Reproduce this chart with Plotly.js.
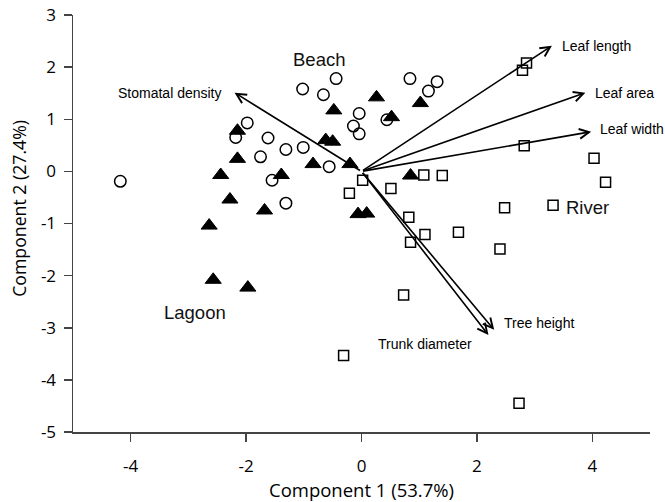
<!DOCTYPE html>
<html>
<head>
<meta charset="utf-8">
<script src="https://cdn.plot.ly/plotly-3.0.1.min.js"></script>
<style>html,body{margin:0;padding:0;background:#fff;}#chart{width:665px;height:502px;}</style>
</head>
<body>
<div id="chart"></div>
<script>
// Beach (open circles)
const beachX = [-4.18, -1.98, -2.18, -1.62, -1.75, -1.31, -1.01, -1.55, -1.31, -0.56, -1.02, -0.66, -0.44, -0.04, -0.14, -0.04, 0.84, 1.16, 1.31, 0.44];
const beachY = [-0.19, 0.93, 0.65, 0.64, 0.28, 0.42, 0.46, -0.17, -0.61, 0.09, 1.58, 1.47, 1.78, 1.11, 0.87, 0.72, 1.78, 1.54, 1.72, 0.99];
// Lagoon (filled triangles)
const lagoonX = [-2.15, -2.15, -2.44, -2.28, -1.68, -1.39, -2.64, -2.57, -1.97, -0.84, -0.62, -0.50, -0.48, -0.20, 0.26, 0.52, 1.02, 0.85, -0.06, 0.09];
const lagoonY = [0.78, 0.24, -0.07, -0.54, -0.75, -0.07, -1.04, -2.08, -2.23, 0.14, 0.60, 0.57, 1.17, 0.14, 1.42, 1.04, 1.31, -0.08, -0.82, -0.81];
// River (open squares)
const riverX = [0.02, -0.21, 0.51, 1.08, 1.40, 0.82, 1.10, 0.85, 1.68, 0.73, 2.86, 2.79, 2.82, 4.03, 4.23, 3.32, 2.48, 2.40, -0.31, 2.73];
const riverY = [-0.17, -0.42, -0.33, -0.07, -0.08, -0.88, -1.21, -1.36, -1.17, -2.37, 2.08, 1.94, 0.49, 0.25, -0.21, -0.65, -0.70, -1.49, -3.53, -4.45];
// Variable loading vectors (from origin)
const vecNames = ['Stomatal density', 'Leaf length', 'Leaf area', 'Leaf width', 'Tree height', 'Trunk diameter'];
const vecX = [-2.20, 3.30, 3.88, 3.98, 2.30, 2.20];
const vecY = [1.51, 2.41, 1.51, 0.76, -3.04, -3.14];
// Group labels
const groupNames = ['Beach', 'River', 'Lagoon'];
const groupX = [-0.74, 3.92, -2.88];
const groupY = [2.15, -0.69, -2.71];
// Axis ticks
const xTicks = [-4, -2, 0, 2, 4];
const xTickText = ['-4', '-2', '0', '2', '4'];
const yTicks = [-5, -4, -3, -2, -1, 0, 1, 2, 3];
const yTickText = ['-5', '-4', '-3', '-2', '-1', '0', '1', '2', '3'];
const xTitle = 'Component 1 (53.7%)';
const yTitle = 'Component 2 (27.4%)';

// label styling (placement relative to vector tips, in px)
const vecLabelStyle = [
  {xanchor: 'right', xshift: -11, yshift: 0},
  {xanchor: 'left', xshift: 8, yshift: 0},
  {xanchor: 'left', xshift: 8, yshift: 0},
  {xanchor: 'left', xshift: 7, yshift: 3},
  {xanchor: 'left', xshift: 8, yshift: 7},
  {xanchor: 'right', xshift: -14, yshift: -9}
];

const traces = [
  {x: riverX, y: riverY, type: 'scatter', mode: 'markers', name: 'River',
   marker: {symbol: 'square-open', size: 10, color: '#000', line: {width: 1.5, color: '#000'}}},
  {x: beachX, y: beachY, type: 'scatter', mode: 'markers', name: 'Beach',
   marker: {symbol: 'circle-open', size: 11.5, color: '#000', line: {width: 1.5, color: '#000'}}},
  {x: lagoonX, y: lagoonY, type: 'scatter', mode: 'markers', name: 'Lagoon',
   marker: {symbol: 'triangle-up', size: 14, color: '#000', line: {width: 1, color: '#000'}}}
];

const annotations = [];
vecNames.forEach((n, i) => {
  annotations.push({x: vecX[i], y: vecY[i], ax: 0, ay: 0, axref: 'x', ayref: 'y', xref: 'x', yref: 'y',
    text: '', showarrow: true, arrowhead: 5, arrowsize: 1.2, arrowwidth: 1.6, arrowcolor: '#000', standoff: 0, startstandoff: 0});
  const s = vecLabelStyle[i];
  annotations.push({x: vecX[i], y: vecY[i], xref: 'x', yref: 'y', text: n, showarrow: false,
    xanchor: s.xanchor, yanchor: 'middle', xshift: s.xshift, yshift: s.yshift,
    font: {family: 'Liberation Sans, Arial, sans-serif', size: 14, color: '#000'}});
});
groupNames.forEach((n, i) => {
  annotations.push({x: groupX[i], y: groupY[i], xref: 'x', yref: 'y', text: n, showarrow: false,
    xanchor: 'center', yanchor: 'middle',
    font: {family: 'Liberation Sans, Arial, sans-serif', size: 18.5, color: '#111'}});
});
// y-axis title placed as rotated text left of the axis
annotations.push({x: -0.094, y: 0.537, xref: 'paper', yref: 'paper', text: yTitle, showarrow: false,
  textangle: -90, xanchor: 'center', yanchor: 'middle',
  font: {family: 'Open Sans, Noto Sans, sans-serif', size: 17.7, color: '#000'}});

const axisFont = {family: 'Open Sans, Noto Sans, sans-serif', size: 17, color: '#000'};
const layout = {
  width: 665, height: 502,
  margin: {l: 73, r: 15, t: 15, b: 70},
  paper_bgcolor: '#fff', plot_bgcolor: '#fff',
  showlegend: false,
  xaxis: {range: [-5, 5], tickvals: xTicks, ticktext: xTickText, ticks: 'outside', ticklen: 8, tickwidth: 1.5, tickcolor: '#444',
    showline: true, linecolor: '#444', linewidth: 1.5, showgrid: false, zeroline: false,
    tickfont: axisFont, ticklabelstandoff: 10,
    title: {text: xTitle, font: {family: 'Open Sans, Noto Sans, sans-serif', size: 18.5, color: '#000'}, standoff: 6}},
  yaxis: {range: [-5, 3], tickvals: yTicks, ticktext: yTickText, ticks: 'outside', ticklen: 8, tickwidth: 1.5, tickcolor: '#444',
    showline: true, linecolor: '#444', linewidth: 1.5, showgrid: false, zeroline: false,
    tickfont: axisFont, ticklabelstandoff: 4},
  annotations: annotations
};

Plotly.newPlot('chart', traces, layout, {displayModeBar: false, staticPlot: true});
</script>
</body>
</html>
